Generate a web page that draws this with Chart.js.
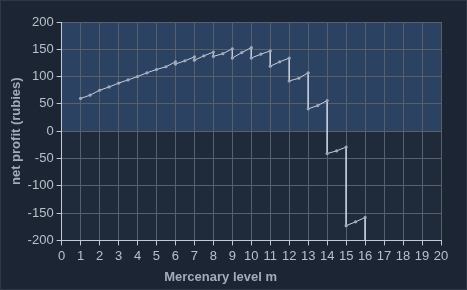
<!DOCTYPE html>
<html>
<head>
<meta charset="utf-8">
<script src="https://cdn.jsdelivr.net/npm/chart.js@4"></script>
<style>
  html, body { margin: 0; padding: 0; background: #1c2534; }
  #wrap { width: 467px; height: 290px; position: relative; box-sizing: border-box; border: 1px solid #2f3846; }
</style>
</head>
<body>
<div id="wrap"><canvas id="chart" width="465" height="288"></canvas></div>
<script>
// mercenary level (half steps, repeated x = drop when a new mercenary is hired)
const levels = [1, 1.5, 2, 2.5, 3, 3.5, 4, 4.5, 5, 5.5, 6, 6, 6.5, 7, 7, 7.5, 8, 8, 8.5, 9, 9, 9.5,
  10, 10, 10.5, 11, 11, 11.5, 12, 12, 12.5, 13, 13, 13.5, 14, 14, 14.5, 15, 15, 15.5, 16, 16];
const profit = [60, 66, 75, 81, 88, 94, 100, 107, 113, 118, 127, 123, 129, 136, 130, 138, 145, 137, 142, 151, 134, 144,
  153, 134, 141, 147, 119, 127, 134, 92, 97, 107, 41, 47, 56, -41, -36, -29, -173, -166, -158, -370];

const xTicks = [0, 20];
const yTicks = [-200, 200];

const TICK_COLOR = '#b9c0ca';
const TITLE_COLOR = '#a3acb9';
const GRID_COLOR = '#57606b';
const AXIS_COLOR = '#c3cad4';

const bgPlugin = {
  id: 'bands',
  beforeDraw(chart) {
    const { ctx, chartArea: a, scales } = chart;
    const zero = scales.y.getPixelForValue(0);
    ctx.save();
    ctx.fillStyle = '#2c4262';
    ctx.fillRect(a.left, a.top, a.right - a.left, zero - a.top);
    ctx.fillStyle = '#1f2a3b';
    ctx.fillRect(a.left, zero, a.right - a.left, a.bottom - zero);
    ctx.restore();
  },
  afterDraw(chart) {
    const { ctx, chartArea: a } = chart;
    ctx.save();
    ctx.font = 'bold 13px "Liberation Sans", Arial, sans-serif';
    ctx.fillStyle = TITLE_COLOR;
    ctx.textAlign = 'center';
    ctx.textBaseline = 'middle';
    ctx.fillText('Mercenary level m', a.left + 159, a.bottom + 37);
    ctx.restore();
  }
};

const points = levels.map((x, i) => ({ x, y: profit[i] }));

new Chart(document.getElementById('chart'), {
  type: 'scatter',
  data: {
    datasets: [{
      data: points,
      showLine: true,
      borderColor: '#c6cedb',
      borderWidth: 1,
      pointRadius: 1.6,
      pointBackgroundColor: '#9fabbd',
      pointBorderWidth: 0,
      tension: 0
    }]
  },
  options: {
    responsive: false,
    animation: false,
    layout: { padding: { left: 8, top: 21, right: 25, bottom: 22 } },
    plugins: { legend: { display: false }, tooltip: { enabled: false } },
    scales: {
      x: {
        type: 'linear',
        min: xTicks[0],
        max: xTicks[1],
        ticks: { stepSize: 1, color: TICK_COLOR, font: { size: 13, family: '"Liberation Sans", Arial' }, maxRotation: 0, autoSkip: false, padding: 3 },
        grid: { color: GRID_COLOR, tickColor: AXIS_COLOR, tickLength: 5 },
        border: { color: AXIS_COLOR }
      },
      y: {
        min: yTicks[0],
        max: yTicks[1],
        ticks: { stepSize: 50, color: TICK_COLOR, font: { size: 13, family: '"Liberation Sans", Arial' }, padding: 3 },
        grid: { color: GRID_COLOR, tickColor: AXIS_COLOR, tickLength: 5 },
        border: { color: AXIS_COLOR },
        title: { display: true, text: 'net profit (rubies)', color: TITLE_COLOR, font: { size: 13, weight: 'bold', family: '"Liberation Sans", Arial' }, padding: 0 }
      }
    }
  },
  plugins: [bgPlugin]
});
</script>
</body>
</html>
